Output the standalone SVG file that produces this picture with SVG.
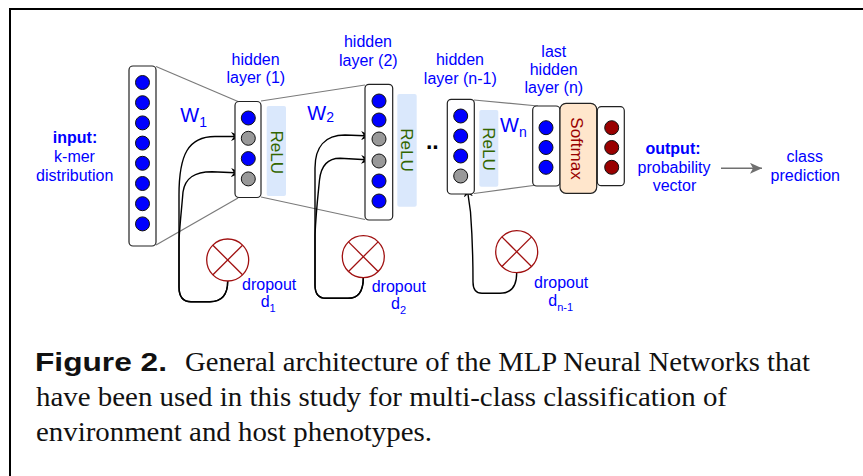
<svg xmlns="http://www.w3.org/2000/svg" width="863" height="476" viewBox="0 0 863 476">
<style>
.lbl{font-family:"Liberation Sans",Arial,sans-serif;font-size:16px;fill:#0000ff;text-anchor:middle}
.lbl-s{font-family:"Liberation Sans",Arial,sans-serif;font-size:16px;fill:#0000ff}
.sub{font-size:11px}
.w{font-family:"Liberation Sans",Arial,sans-serif;font-size:20px;fill:#0000ff}
.ws{font-size:14px}
.box{fill:#ffffff;stroke:#222;stroke-width:1.2}
.nb{fill:#0000ff;stroke:#111;stroke-width:1}
.ng{fill:#999999;stroke:#111;stroke-width:1}
.nr{fill:#990000;stroke:#111;stroke-width:1}
.relu{fill:#dae8fc}
.relut{font-family:"Liberation Sans",Arial,sans-serif;font-size:17px;fill:#336600;text-anchor:middle}
.conn{stroke:#7a7a7a;stroke-width:1.2;fill:none}
.drop{fill:#ffffff;stroke:#a01010;stroke-width:1.3}
.dx{stroke:#a01010;stroke-width:1.3}
.darr{fill:none;stroke:#000;stroke-width:1.4}
.cap{font-family:"Liberation Serif","Times New Roman",serif;font-size:27.5px;fill:#111}
.capb{font-family:"Liberation Sans",Arial,sans-serif;font-size:26px;font-weight:bold;fill:#111}
</style>
<defs>
<marker id="ah" markerUnits="userSpaceOnUse" markerWidth="12" markerHeight="10" refX="10" refY="4.5" orient="auto">
<path d="M0,0 L10,4.5 L0,9 L3,4.5 z" fill="#000"/>
</marker>
<marker id="ahg" markerUnits="userSpaceOnUse" markerWidth="14" markerHeight="12" refX="12" refY="5.5" orient="auto">
<path d="M0,0 L12,5.5 L0,11 L3,5.5 z" fill="#707070"/>
</marker>
</defs>
<rect width="863" height="476" fill="#ffffff"/>
<g id="frame">
<line x1="9" y1="9" x2="863" y2="9" stroke="#000" stroke-width="2"/>
<line x1="10" y1="8" x2="10" y2="476" stroke="#000" stroke-width="2"/>
</g>
<g id="connectors">
<line class="conn" x1="156" y1="66.5" x2="238" y2="101.5"/>
<line class="conn" x1="156" y1="245" x2="238" y2="198"/>
<line class="conn" x1="261" y1="101" x2="365" y2="85"/>
<line class="conn" x1="261" y1="197" x2="365" y2="219.5"/>
<line class="conn" x1="474" y1="100" x2="538" y2="106"/>
<line class="conn" x1="474" y1="193.5" x2="537" y2="185"/>
<line x1="721" y1="168.3" x2="762" y2="168.3" stroke="#707070" stroke-width="1.5" marker-end="url(#ahg)"/>
<path class="darr" d="M227.7,281 C227.7,295 222,301.7 210,301.7 L191,301.7 C183,301.7 179,296 179,287 L179,195 C179,155 188,136.5 215,136.5 L241,136.5" marker-end="url(#ah)"/>
<path class="darr" d="M227.7,281 C227.7,295 222,301.7 210,301.7 L191,301.7 C183,301.7 179,296 179,287 L179,240 C180,222 182,205 183,192 C185,178 194,171.7 212,171.7 L241,173" marker-end="url(#ah)"/>
<path class="darr" d="M363.3,277.7 C363.3,292 358,298.3 348,298.3 L326,298.3 C318,298.3 315,293 315,285 L315,168 C315,147 325,135 345,135 L371,136" marker-end="url(#ah)"/>
<path class="darr" d="M363.3,277.7 C363.3,292 358,298.3 348,298.3 L326,298.3 C318,298.3 315,293 315,285 L315,235 C316,212 318,195 319.5,180 C321,166 328,158.3 340,158.3 L371,160" marker-end="url(#ah)"/>
<path class="darr" d="M516.7,272.7 C516.7,287 510,293.3 500,293.3 L482,293.3 C476,293.3 473,289 473,282 C473,260 472,232 470.5,212 L467,187" marker-end="url(#ah)"/>
</g>
<g id="input">
<rect class="box" x="129" y="66" width="27" height="180" rx="4"/>
<circle class="nb" cx="142.5" cy="82.5" r="7"/>
<circle class="nb" cx="142.5" cy="102.7" r="7"/>
<circle class="nb" cx="142.5" cy="122.9" r="7"/>
<circle class="nb" cx="142.5" cy="143.1" r="7"/>
<circle class="nb" cx="142.5" cy="163.3" r="7"/>
<circle class="nb" cx="142.5" cy="183.5" r="7"/>
<circle class="nb" cx="142.5" cy="203.7" r="7"/>
<circle class="nb" cx="142.5" cy="223.9" r="7"/>
<text class="lbl" x="75" y="143.3" font-weight="bold">input:</text>
<text class="lbl" x="74.5" y="162.3">k-mer</text>
<text class="lbl" x="74.7" y="181">distribution</text>
</g>
<g id="hidden1">
<rect class="box" x="235" y="101.5" width="26" height="96" rx="4"/>
<circle class="nb" cx="248.3" cy="118" r="7"/>
<circle class="ng" cx="248.3" cy="138.3" r="7"/>
<circle class="nb" cx="248.3" cy="158.6" r="7"/>
<circle class="ng" cx="248.3" cy="178.9" r="7"/>
<text class="lbl" x="255.6" y="65">hidden</text>
<text class="lbl" x="255.8" y="83.3">layer (1)</text>
<text class="w" x="180.3" y="121.7">W<tspan class="ws" dy="5">1</tspan></text>
</g>
<g id="relu1">
<rect class="relu" x="266.7" y="106" width="19.3" height="90" rx="2"/>
<text class="relut" transform="translate(270.5,152.3) rotate(90)">ReLU</text>
</g>
<g id="hidden2">
<rect class="box" x="365" y="84.3" width="27.7" height="135.7" rx="4"/>
<circle class="nb" cx="379" cy="101" r="7"/>
<circle class="nb" cx="379" cy="120" r="7"/>
<circle class="ng" cx="379" cy="139" r="7"/>
<circle class="ng" cx="379" cy="161" r="7"/>
<circle class="nb" cx="379" cy="181" r="7"/>
<circle class="nb" cx="379" cy="201" r="7"/>
<text class="lbl" x="368" y="46.7">hidden</text>
<text class="lbl" x="368.3" y="65.7">layer (2)</text>
<text class="w" x="307.3" y="120">W<tspan class="ws" dy="2">2</tspan></text>
</g>
<g id="relu2">
<rect class="relu" x="397.3" y="94" width="19.4" height="112.7" rx="2"/>
<text class="relut" transform="translate(401.3,150) rotate(90)">ReLU</text>
</g>
<g id="dots">
<text x="432.3" y="148.5" font-family="Liberation Sans, Arial, sans-serif" font-size="23" font-weight="bold" text-anchor="middle" fill="#000">..</text>
</g>
<g id="hiddenN1">
<rect class="box" x="447.3" y="99.3" width="27" height="94.7" rx="4"/>
<circle class="nb" cx="460.7" cy="116" r="7"/>
<circle class="nb" cx="460.7" cy="136" r="7"/>
<circle class="nb" cx="460.7" cy="156" r="7"/>
<circle class="ng" cx="460.7" cy="176" r="7"/>
<text class="lbl" x="460" y="65">hidden</text>
<text class="lbl" x="460.3" y="84">layer (n-1)</text>
<text class="w" x="500" y="131.7">W<tspan class="ws" dy="5.5">n</tspan></text>
</g>
<g id="reluN1">
<rect class="relu" x="479.3" y="110" width="19" height="76.7" rx="2"/>
<text class="relut" transform="translate(483,149) rotate(90)">ReLU</text>
</g>
<g id="lastHidden">
<rect class="box" x="532.7" y="106" width="27.3" height="80" rx="4"/>
<circle class="nb" cx="546" cy="127.7" r="7"/>
<circle class="nb" cx="546" cy="147.5" r="7"/>
<circle class="nb" cx="546" cy="167.3" r="7"/>
<text class="lbl" x="553.8" y="56.7">last</text>
<text class="lbl" x="553.7" y="75">hidden</text>
<text class="lbl" x="553.8" y="93.3">layer (n)</text>
</g>
<g id="softmax">
<rect x="560" y="103.3" width="36.7" height="90" rx="6" fill="#ffe6cc" stroke="#222" stroke-width="1.2"/>
<text transform="translate(570.8,148.5) rotate(90)" font-family="Liberation Sans, Arial, sans-serif" font-size="17" fill="#990000" text-anchor="middle">Softmax</text>
</g>
<g id="outputLayer">
<rect class="box" x="597.3" y="106.7" width="27" height="79" rx="4"/>
<circle class="nr" cx="611.7" cy="127.7" r="7"/>
<circle class="nr" cx="611.7" cy="147.5" r="7"/>
<circle class="nr" cx="611.7" cy="167.3" r="7"/>
</g>
<g id="outputLabel">
<text class="lbl" x="673" y="154" font-weight="bold">output:</text>
<text class="lbl" x="674" y="172.7">probability</text>
<text class="lbl" x="674.5" y="191">vector</text>
</g>
<g id="classPrediction">
<text class="lbl" x="804.7" y="161.7">class</text>
<text class="lbl" x="805.3" y="180.7">prediction</text>
</g>
<g id="dropout1">
<circle class="drop" cx="227.7" cy="260" r="21"/>
<line class="dx" x1="212.9" y1="245.2" x2="242.5" y2="274.8"/>
<line class="dx" x1="242.5" y1="245.2" x2="212.9" y2="274.8"/>
<text class="lbl-s" x="242" y="290">dropout</text>
<text class="lbl-s" x="260.7" y="306.7">d<tspan class="sub" dy="5">1</tspan></text>
</g>
<g id="dropout2">
<circle class="drop" cx="363.3" cy="256.7" r="21"/>
<line class="dx" x1="348.5" y1="241.9" x2="378.1" y2="271.5"/>
<line class="dx" x1="378.1" y1="241.9" x2="348.5" y2="271.5"/>
<text class="lbl-s" x="371.7" y="291.7">dropout</text>
<text class="lbl-s" x="391" y="309.3">d<tspan class="sub" dy="5">2</tspan></text>
</g>
<g id="dropoutN1">
<circle class="drop" cx="516.7" cy="251.7" r="21"/>
<line class="dx" x1="501.9" y1="236.9" x2="531.5" y2="266.5"/>
<line class="dx" x1="531.5" y1="236.9" x2="501.9" y2="266.5"/>
<text class="lbl-s" x="534" y="288.3">dropout</text>
<text class="lbl-s" x="548.3" y="306">d<tspan class="sub" dy="4.5">n-1</tspan></text>
</g>
<g id="caption">
<text class="capb" x="35" y="370.5" textLength="132" lengthAdjust="spacingAndGlyphs">Figure 2.</text>
<text class="cap" x="185" y="370.5" textLength="625" lengthAdjust="spacingAndGlyphs">General architecture of the MLP Neural Networks that</text>
<text class="cap" x="36" y="406" textLength="691" lengthAdjust="spacingAndGlyphs">have been used in this study for multi-class classification of</text>
<text class="cap" x="36" y="441" textLength="396" lengthAdjust="spacingAndGlyphs">environment and host phenotypes.</text>
</g>
</svg>
